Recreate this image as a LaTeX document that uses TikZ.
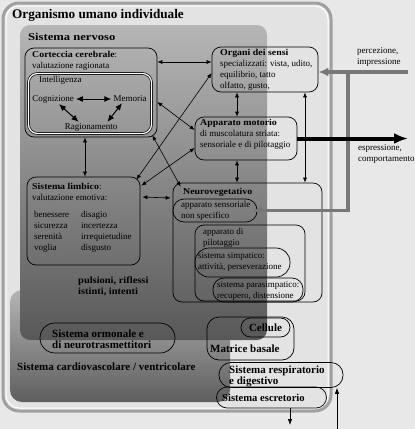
\documentclass[tikz,border=0pt]{standalone}
\usepackage{fontspec}
\setmainfont{Liberation Serif}
\newfontfamily\wideserif[FakeStretch=1.2]{Liberation Serif}
\newfontfamily\spacedserif[FakeStretch=1.1]{Liberation Serif}
\usetikzlibrary{arrows.meta,calc,positioning}

\definecolor{bgpage}{HTML}{E8E8E8}
\definecolor{organfill}{HTML}{E3E3E3}
\definecolor{organline}{HTML}{A0A0A0}
\definecolor{nervtop}{HTML}{B6B6B6}
\definecolor{nervbot}{HTML}{585858}
\definecolor{cardtop}{HTML}{B4B4B4}
\definecolor{cardbot}{HTML}{5E5E5E}
\definecolor{flowgray}{HTML}{787878}

\newcommand{\hd}[1]{{\spacedserif\bfseries #1}}

\tikzset{
  box/.style={draw, rounded corners=9pt, line width=0.7pt, inner sep=0pt},
  pill/.style={draw, rounded corners=11pt, line width=0.7pt, inner sep=0pt},
  txt/.style={inner sep=0pt, anchor=north west, align=left, font=\fontsize{9}{11}\selectfont},
  lbl/.style={inner sep=0pt, anchor=north west, align=left, font=\fontsize{11}{11}\selectfont\bfseries},
  link/.style={{Latex[length=5pt,width=4pt]}-{Latex[length=5pt,width=4pt]}, line width=0.6pt},
  biglink/.style={{Latex[length=7pt,width=6pt]}-{Latex[length=7pt,width=6pt]}, line width=1pt},
  single/.style={-{Latex[length=6pt,width=4.5pt]}, line width=0.7pt},
  flow/.style={flowgray, line width=3.5pt, -{Latex[length=10pt,width=9pt]}},
  outflow/.style={line width=4pt, -{Latex[length=14pt,width=11pt]}}
}

\begin{document}
\begin{tikzpicture}[x=1pt, y=-1pt]
    \fill[bgpage] (0,0) rectangle (415,429);
    \useasboundingbox (0,0) rectangle (415,429);

    % Containers
    \draw[organline, line width=3pt, fill=organfill, rounded corners=16pt] (3,3) rectangle (331,411);
    \draw[white, line width=1pt, rounded corners=13pt] (6,6) rectangle (328,408);
    \shade[top color=cardtop, bottom color=cardbot, rounded corners=12pt] (10,290) rectangle (230,402);
    \shade[top color=nervtop, bottom color=nervbot, rounded corners=10pt] (20,25) rectangle (267,340);

    \node[lbl, font=\fontsize{13.2}{15}\selectfont\bfseries] (title) at (12,9) {Organismo umano individuale};
    \node[lbl, font=\fontsize{10.5}{12}\selectfont\wideserif\bfseries] (nerv) at (28,33) {Sistema nervoso};

    % Corteccia cerebrale
    \node[box, minimum width=132, minimum height=89] (cort) at (91,92.5) {};
    \node[txt] (cortT) at (32,51) {\hd{Corteccia cerebrale}:\\valutazione ragionata};
    \node[box, double, double distance=1.2pt, minimum width=123, minimum height=60] (intel) at (90,103.5) {};
    \node[txt] (intelT) at (39,76) {Intelligenza};
    \node[txt, anchor=center] (cogn) at (53,99) {Cognizione};
    \node[txt, anchor=center] (memo) at (130,99) {Memoria};
    \node[txt, anchor=center] (ragi) at (91,127) {Ragionamento};

    \draw[biglink, shorten <=2pt, shorten >=2pt] (cogn) -- (memo);
    \draw[biglink] ($(cogn.south)+(6,1)$) -- ($(ragi.north west)+(14,-1)$);
    \draw[biglink] ($(memo.south)+(-8,1)$) -- ($(ragi.north east)+(-10,-1)$);

    % Organi dei sensi, apparato motorio
    \node[box, minimum width=106, minimum height=45] (orga) at (265,69.5) {};
    \node[txt] (orgaT) at (220,49) {\hd{Organi dei sensi}\\specializzati: vista, udito,\\equilibrio, tatto\\olfatto, gusto,};
    \node[box, minimum width=102, minimum height=43] (moto) at (246,138.5) {};
    \node[txt] (motoT) at (200,119) {\hd{Apparato motorio}\\di muscolatura striata:\\sensoriale e di pilotaggio};

    % Sistema limbico
    \node[box, minimum width=113, minimum height=88] (limb) at (83.5,221) {};
    \node[txt] (limbT) at (32,183) {\hd{Sistema limbico}:\\valutazione emotiva:};
    \node[txt] (limbL) at (34,211) {benessere\\sicurezza\\serenità\\voglia};
    \node[txt] (limbR) at (81,211) {disagio\\incertezza\\irrequietudine\\disgusto};

    % Neurovegetativo
    \node[box, minimum width=149, minimum height=119] (neur) at (247.5,242.5) {};
    \node[txt] (neurT) at (183,188) {\hd{Neurovegetativo}};
    \node[pill, minimum width=84, minimum height=23] (sens) at (215,210.5) {};
    \node[txt] (sensT) at (181,201) {apparato sensoriale\\non specifico};
    \node[box, minimum width=110, minimum height=76] (pilo) at (250,263) {};
    \node[txt] (piloT) at (203,228) {apparato di\\pilotaggio};
    \node[pill, rounded corners=14pt, minimum width=95, minimum height=29] (simp) at (242.5,262.5) {};
    \node[txt] (simpT) at (198,252) {sistema simpatico:\\attività, perseverazione};
    \node[pill, minimum width=90, minimum height=24] (para) at (258,290) {};
    \node[txt] (paraT) at (217,281) {sistema parasimpatico:\\recupero, distensione};

    \node[txt, font=\fontsize{9.5}{11}\selectfont] (puls) at (78,277) {\hd{pulsioni, riflessi}\\\hd{istinti, intenti}};

    % Ormonale, cardiovascolare
    \node[pill, rounded corners=15pt, minimum width=135, minimum height=30] (ormo) at (107.5,338) {};
    \node[lbl] (ormoT) at (52,330) {Sistema ormonale e\\di neurotrasmettitori};
    \node[lbl] (card) at (17,363) {Sistema cardiovascolare / ventricolare};

    % Cellule e sistemi
    \node[box, rounded corners=12pt, minimum width=87, minimum height=43] (cell) at (250.5,338.5) {};
    \node[pill, rounded corners=9.5pt, minimum width=49, minimum height=19, font=\fontsize{11}{11}\selectfont\bfseries] (cellE) at (265.5,327.5) {Cellule};
    \node[lbl] (matr) at (210,345) {Matrice basale};
    \node[pill, rounded corners=12pt, minimum width=124, minimum height=25] (resp) at (281,375) {};
    \node[lbl, font=\fontsize{11}{10.5}\selectfont\bfseries] (respT) at (229,366) {Sistema respiratorio\\e digestivo};
    \node[pill, rounded corners=10.5pt, minimum width=110, minimum height=21] (escr) at (271.5,397.5) {};
    \node[lbl, font=\fontsize{10.6}{11}\selectfont\bfseries] (escrT) at (222,394) {Sistema escretorio};

    \coordinate (escrOut) at (290,425);
    \coordinate (respIn) at (337,429);
    \draw[single] (escr.south -| escrOut) -- (escrOut);
    \draw[single] (respIn) -- (resp.south -| respIn);

    % Links
    \draw[link] (cort.east |- 0,62) -- (orga.west |- 0,62);
    \draw[link] (orga.south -| 237,0) -- (moto.north -| 237,0);
    \draw[link] (moto.south -| 237,0) -- (neur.north -| 237,0);
    \draw[link] (orga.south -| 305,0) -- (neur.north -| 305,0);
    \draw[link] (cort.south -| 85,0) -- (limb.north -| 85,0);
    \draw[link] (cort.east |- 0,102) -- (moto.west |- 0,130);
    \draw[link] ($(cort.south east)+(-5,-2)$) -- ($(neur.north west)+(8,4)$);
    \draw[link] ($(limb.north east)+(-4,3)$) -- (orga.west |- 0,73);
    \draw[link] ($(limb.north east)+(1,9)$) -- (moto.west |- 0,148);
    \draw[link, shorten <=2pt, shorten >=2pt] (limb.east |- 0,197) -- (neur.west |- 0,198);

    % Percezione ed espressione
    \coordinate (perc) at (408,72);
    \coordinate (split) at (348,72);
    \coordinate (espr) at (408,138.5);
    \draw[flow] (perc) -- (orga.east |- perc);
    \draw[flow, shorten >=-5pt] (split) |- (sens.east);
    \draw[outflow] (moto.east) -- (espr);
    \node[txt] (percT) at (357,47) {percezione,\\impressione};
    \node[txt] (esprT) at (358,144) {espressione,\\comportamento};
\end{tikzpicture}
\end{document}
